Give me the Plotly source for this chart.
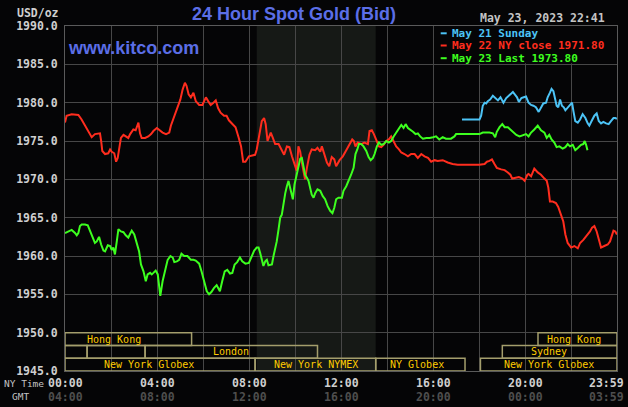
import plotly.graph_objects as go

# ---------------- data ----------------
red_hours = [0.0,0.07,0.29,0.58,0.72,0.87,1.01,1.16,1.30,1.45,1.52,1.57,1.62,1.74,1.88,1.96,2.03,2.14,2.22,2.29,2.35,2.43,2.54,2.64,2.75,2.83,2.97,3.07,3.19,3.26,3.33,3.48,3.62,3.74,3.84,3.99,4.10,4.24,4.39,4.53,4.60,4.75,4.89,5.01,5.11,5.21,5.28,5.37,5.47,5.58,5.68,5.83,5.97,6.12,6.22,6.33,6.45,6.55,6.65,6.76,6.91,7.02,7.12,7.27,7.41,7.55,7.65,7.74,7.84,7.99,8.12,8.26,8.33,8.45,8.55,8.65,8.72,8.80,8.87,8.94,9.03,9.13,9.28,9.42,9.52,9.64,9.75,9.86,10.0,10.07,10.14,10.22,10.29,10.36,10.43,10.51,10.62,10.72,10.87,10.97,11.09,11.16,11.26,11.38,11.48,11.59,11.70,11.78,11.93,12.07,12.22,12.36,12.48,12.55,12.62,12.72,12.87,13.01,13.16,13.23,13.33,13.42,13.52,13.64,13.74,13.84,13.96,14.07,14.17,14.28,14.39,14.51,14.61,14.75,14.90,15.04,15.19,15.33,15.48,15.62,15.77,15.91,16.06,16.19,16.41,16.63,16.84,17.06,17.43,17.79,18.0,18.23,18.33,18.44,18.55,18.66,18.76,18.95,19.10,19.24,19.35,19.43,19.58,19.72,19.87,19.97,20.09,20.14,20.25,20.39,20.54,20.68,20.83,20.93,21.0,21.07,21.19,21.33,21.43,21.55,21.65,21.74,21.84,21.99,22.13,22.28,22.38,22.52,22.67,22.81,22.90,23.0,23.10,23.22,23.29,23.43,23.58,23.68,23.77,23.83,23.91,23.98]
red_values = [1977.4,1978.3,1978.5,1978.4,1977.8,1977.0,1976.2,1975.5,1975.9,1976.0,1976.0,1975.0,1973.7,1973.3,1973.4,1973.9,1973.6,1973.4,1972.3,1972.8,1973.9,1975.4,1975.8,1975.6,1975.4,1975.9,1976.5,1976.4,1977.4,1976.0,1975.4,1975.4,1975.6,1975.9,1976.3,1976.7,1976.4,1976.1,1975.9,1976.1,1977.0,1978.3,1979.4,1980.4,1981.7,1982.6,1982.2,1981.1,1980.7,1981.3,1980.2,1979.7,1979.7,1980.7,1980.2,1979.7,1980.0,1980.3,1979.3,1978.7,1978.3,1978.3,1977.7,1977.3,1976.8,1975.4,1974.3,1972.3,1972.3,1973.0,1973.1,1973.2,1973.9,1975.9,1977.6,1978.0,1977.2,1975.0,1975.6,1976.1,1975.4,1974.6,1974.6,1973.7,1973.2,1974.3,1974.2,1973.0,1971.7,1971.1,1974.3,1973.6,1972.2,1971.1,1970.0,1971.5,1973.2,1973.9,1973.8,1974.1,1973.6,1974.3,1973.2,1972.2,1971.7,1972.9,1972.6,1971.7,1972.5,1973.0,1973.8,1974.6,1975.2,1975.0,1974.3,1974.8,1974.6,1974.8,1974.6,1976.3,1976.4,1975.9,1975.2,1974.3,1974.2,1974.5,1975.0,1975.2,1975.6,1975.0,1974.3,1973.9,1973.5,1973.3,1973.0,1973.3,1973.3,1972.8,1973.3,1973.0,1972.8,1972.3,1972.5,1972.4,1972.5,1972.2,1972.0,1971.9,1971.9,1971.9,1971.9,1972.0,1972.3,1972.4,1972.6,1972.0,1971.5,1971.3,1971.2,1970.9,1970.6,1970.1,1970.2,1970.3,1970.1,1969.8,1970.6,1970.7,1970.4,1971.4,1970.9,1970.6,1970.1,1969.8,1968.9,1967.1,1967.1,1966.9,1966.4,1965.2,1964.5,1962.8,1961.7,1961.1,1961.3,1961.0,1961.7,1962.1,1962.6,1963.2,1963.7,1963.9,1963.2,1961.9,1961.1,1961.3,1961.5,1961.9,1962.8,1963.3,1963.2,1962.8]

green_hours = [0.0,0.145,0.29,0.435,0.51,0.58,0.65,0.725,0.87,0.99,1.09,1.19,1.30,1.38,1.48,1.57,1.67,1.74,1.86,1.96,2.03,2.10,2.17,2.25,2.32,2.43,2.54,2.64,2.75,2.83,2.90,3.01,3.12,3.22,3.30,3.41,3.51,3.59,3.70,3.77,3.84,3.94,4.03,4.07,4.14,4.24,4.35,4.46,4.58,4.68,4.75,4.86,4.96,5.06,5.18,5.32,5.47,5.58,5.68,5.83,5.93,6.04,6.16,6.26,6.36,6.47,6.59,6.66,6.73,6.83,6.94,7.05,7.17,7.27,7.37,7.48,7.60,7.70,7.84,7.99,8.12,8.22,8.33,8.41,8.48,8.55,8.62,8.70,8.77,8.84,8.99,9.06,9.13,9.20,9.28,9.35,9.42,9.49,9.57,9.64,9.71,9.78,9.86,9.90,9.97,10.07,10.14,10.22,10.29,10.36,10.43,10.51,10.58,10.65,10.72,10.80,10.87,10.97,11.09,11.20,11.30,11.41,11.52,11.62,11.70,11.78,11.88,12.03,12.10,12.22,12.33,12.43,12.54,12.62,12.70,12.77,12.87,12.97,13.09,13.19,13.28,13.38,13.45,13.55,13.64,13.74,13.84,13.96,14.07,14.17,14.28,14.39,14.51,14.61,14.71,14.80,14.90,15.0,15.12,15.23,15.33,15.43,15.55,15.70,15.84,15.99,16.12,16.26,16.41,16.55,16.77,16.92,16.99,17.43,17.86,18.01,18.15,18.30,18.44,18.59,18.69,18.76,18.88,19.0,19.10,19.24,19.35,19.46,19.61,19.75,19.90,20.03,20.14,20.25,20.39,20.54,20.68,20.83,20.93,21.04,21.14,21.26,21.36,21.48,21.62,21.74,21.84,21.94,22.06,22.17,22.28,22.42,22.52,22.58,22.64,22.70]
green_values = [1963.0,1963.2,1963.4,1963.0,1962.7,1963.0,1963.9,1964.1,1964.1,1964.0,1963.2,1962.4,1961.7,1961.9,1962.5,1961.5,1960.7,1960.6,1961.4,1961.3,1960.8,1961.1,1960.2,1961.9,1963.5,1963.2,1963.1,1962.7,1962.4,1962.9,1963.3,1962.8,1961.7,1960.6,1958.9,1958.0,1956.7,1957.6,1957.8,1957.6,1957.8,1958.1,1957.6,1956.7,1954.8,1956.7,1958.0,1959.5,1960.0,1959.8,1959.2,1959.3,1959.5,1960.3,1960.0,1960.0,1959.5,1959.5,1959.4,1959.0,1958.0,1956.7,1955.4,1955.0,1955.3,1955.8,1956.2,1955.8,1955.4,1956.7,1958.0,1958.2,1957.7,1957.8,1958.9,1959.2,1959.8,1959.3,1959.0,1959.1,1960.1,1960.7,1961.1,1961.1,1960.4,1959.5,1958.7,1959.3,1959.5,1958.8,1958.9,1960.0,1960.8,1961.9,1963.5,1965.0,1965.4,1966.9,1968.2,1969.1,1969.8,1968.9,1968.0,1967.4,1969.3,1970.6,1971.9,1972.7,1972.8,1971.9,1970.6,1970.2,1969.8,1968.9,1968.0,1967.6,1968.2,1968.7,1968.5,1967.8,1967.4,1966.5,1965.9,1965.6,1966.3,1967.4,1967.6,1967.6,1968.5,1969.1,1969.8,1970.6,1971.5,1973.3,1973.9,1974.6,1974.6,1974.3,1973.7,1972.9,1972.5,1972.8,1973.3,1974.3,1974.8,1974.5,1974.6,1975.0,1974.8,1975.0,1975.6,1976.1,1976.7,1977.1,1976.7,1977.2,1976.7,1976.5,1976.2,1975.9,1976.0,1975.6,1975.3,1975.4,1975.4,1975.5,1975.6,1975.2,1975.5,1975.3,1975.3,1975.6,1975.9,1975.9,1975.9,1975.9,1976.1,1976.1,1976.1,1976.0,1975.5,1976.2,1976.8,1977.2,1976.8,1976.8,1976.5,1976.1,1975.8,1975.6,1975.8,1975.9,1975.6,1976.1,1976.5,1977.0,1976.4,1976.1,1975.4,1975.8,1975.2,1974.8,1974.2,1974.3,1974.0,1974.2,1974.6,1974.3,1974.5,1973.8,1974.1,1974.5,1974.6,1975.0,1974.5,1973.8]

blue_hours = [17.25,18.01,18.08,18.15,18.23,18.30,18.37,18.47,18.59,18.71,18.81,18.92,19.05,19.17,19.29,19.39,19.46,19.53,19.64,19.72,19.83,19.93,20.03,20.14,20.25,20.35,20.46,20.58,20.68,20.78,20.90,20.97,21.07,21.14,21.22,21.29,21.36,21.43,21.51,21.59,21.67,21.74,21.84,21.94,22.03,22.09,22.17,22.28,22.38,22.49,22.61,22.71,22.78,22.88,23.0,23.10,23.19,23.29,23.39,23.51,23.62,23.72,23.83,23.91,23.98]
blue_values = [1977.8,1977.8,1978.3,1979.6,1980.0,1979.9,1980.2,1980.4,1980.9,1980.6,1980.3,1980.7,1980.0,1980.6,1981.0,1981.2,1981.4,1981.1,1980.7,1980.1,1980.6,1980.7,1980.8,1980.0,1979.7,1979.6,1979.4,1978.8,1979.4,1979.9,1980.0,1980.7,1981.3,1981.8,1981.5,1980.4,1979.6,1979.4,1980.4,1979.6,1979.4,1979.0,1979.4,1979.7,1980.0,1978.9,1977.6,1977.4,1977.8,1978.5,1978.0,1977.3,1977.0,1977.6,1978.3,1978.6,1977.6,1977.3,1977.5,1977.3,1977.2,1977.6,1978.0,1978.0,1977.9]

legend_labels = ["May 21 Sunday", "May 22 NY close 1971.80", "May 23 Last 1973.80"]

y_ticks = [1945, 1950, 1955, 1960, 1965, 1970, 1975, 1980, 1985, 1990]
label_hours = [0, 4, 8, 12, 16, 20, 23.983]
ny_labels = ["00:00", "04:00", "08:00", "12:00", "16:00", "20:00", "23:59"]
gmt_labels = ["04:00", "08:00", "12:00", "16:00", "20:00", "00:00", "03:59"]

# market sessions: name, start hour, end hour, row (0 top), label hour
session_names = ["Hong Kong", "", "", "London", "New York Globex", "New York NYMEX", "NY Globex", "Hong Kong", "Sydney", "New York Globex"]
session_start = [0.0, 0.0, 0.96, 3.48, 0.0, 8.26, 13.5, 20.55, 19.0, 18.05]
session_end = [5.5, 0.96, 3.48, 10.97, 8.26, 13.5, 17.38, 23.983, 23.983, 23.983]
session_row = [0, 1, 1, 1, 2, 2, 2, 0, 1, 2]
session_label_at = [2.14, 0, 0, 7.2, 3.66, 10.9, 15.3, 22.1, 21.02, 21.03]

comex_start, comex_end = 8.33, 13.5

# ---------------- styling ----------------
BG = "#050506"
GRID = "#474747"
MONO = "DejaVu Sans Mono"
BLUE_T = "#5b6ee6"
C_BLUE = "#4cc3f5"
C_RED = "#ff2d1e"
C_GREEN = "#3dff1f"
BOX = "#a49e6c"
SESS_TXT = "#ffcc00"

L, R, T, B = 65, 11, 26, 36
W, H = 628, 407
PW, PH = W - L - R, H - T - B
XMAX = 23.983


def px(x):
    return (x - L) / PW


def py(y):
    return (H - B - y) / PH


fig = go.Figure()
for hrs, vals, col in [(red_hours, red_values, C_RED),
                       (green_hours, green_values, C_GREEN),
                       (blue_hours, blue_values, C_BLUE)]:
    fig.add_trace(go.Scatter(x=hrs, y=vals, mode="lines",
                             line=dict(color=col, width=2), hoverinfo="skip",
                             showlegend=False))

shapes = []
# COMEX shaded period
shapes.append(dict(type="rect", xref="x", yref="y", x0=comex_start, x1=comex_end,
                   y0=1945, y1=1990, fillcolor="#161916", line=dict(width=0), layer="below"))
# legend background
shapes.append(dict(type="rect", xref="x", yref="y", x0=16.06, x1=XMAX, y0=1985.15, y1=1990,
                   fillcolor=BG, line=dict(width=0), layer="between"))
# sessions
row_h = 5 / 3
annotations = []
for name, s, e, r, la in zip(session_names, session_start, session_end, session_row, session_label_at):
    y1 = 1950 - r * row_h
    y0 = y1 - row_h
    shapes.append(dict(type="rect", xref="x", yref="y", x0=s, x1=e, y0=y0, y1=y1,
                       line=dict(color=BOX, width=1.5), fillcolor="rgba(0,0,0,0)", layer="above"))
    if name:
        annotations.append(dict(xref="x", yref="y", x=la, y=(y0 + y1) / 2, text=name,
                                showarrow=False, xanchor="center", yanchor="middle",
                                font=dict(family=MONO, size=10, color=SESS_TXT)))

# legend dashes and text
for i, (lab, col) in enumerate(zip(legend_labels, [C_BLUE, C_RED, C_GREEN])):
    yc = [33.3, 45.5, 58.2][i]
    shapes.append(dict(type="line", xref="paper", yref="paper", x0=px(440.7), x1=px(446.7),
                       y0=py(yc), y1=py(yc), line=dict(color=col, width=2)))
    annotations.append(dict(xref="paper", yref="paper", x=px(450), y=py(yc), text=lab,
                            showarrow=False, xanchor="left", yanchor="middle",
                            font=dict(family=MONO, size=11, color=col, weight="bold")))

# title and header texts
annotations += [
    dict(xref="paper", yref="paper", x=px(293.5), y=py(14), text="24 Hour Spot Gold (Bid)",
         showarrow=False, xanchor="center", yanchor="middle",
         font=dict(family="Liberation Sans", size=18, color=BLUE_T, weight="bold")),
    dict(xref="paper", yref="paper", x=px(66), y=py(48), text="www.kitco.com",
         showarrow=False, xanchor="left", yanchor="middle",
         font=dict(family="Liberation Sans", size=18, color=BLUE_T, weight="bold")),
    dict(xref="paper", yref="paper", x=px(60.5), y=py(12.5), text="USD/oz",
         showarrow=False, xanchor="right", yanchor="middle",
         font=dict(family=MONO, size=11.5, color="#cfcfcf", weight="bold")),
    dict(xref="paper", yref="paper", x=px(607), y=py(17.5), text="May 23, 2023 22:41",
         showarrow=False, xanchor="right", yanchor="middle",
         font=dict(family=MONO, size=11.5, color="#c4c4c4", weight="bold")),
    dict(xref="paper", yref="paper", x=px(1.5), y=py(383), text="NY Time",
         showarrow=False, xanchor="left", yanchor="middle",
         font=dict(family=MONO, size=9.5, color="#c4c4c4")),
    dict(xref="paper", yref="paper", x=px(9.5), y=py(396), text="GMT",
         showarrow=False, xanchor="left", yanchor="middle",
         font=dict(family=MONO, size=9.5, color="#c4c4c4")),
]
for h, ny, gm in zip(label_hours, ny_labels, gmt_labels):
    xc = L + h / XMAX * PW
    if h > 23:
        xc = 606
    annotations.append(dict(xref="paper", yref="paper", x=px(xc), y=py(383), text=ny,
                            showarrow=False, xanchor="center", yanchor="middle",
                            font=dict(family=MONO, size=11.5, color="#cfcfcf", weight="bold")))
    annotations.append(dict(xref="paper", yref="paper", x=px(xc), y=py(397), text=gm,
                            showarrow=False, xanchor="center", yanchor="middle",
                            font=dict(family=MONO, size=11.5, color="#4e4e4e", weight="bold")))

fig.update_layout(
    width=W, height=H,
    margin=dict(l=L, r=R, t=T, b=B, pad=0),
    paper_bgcolor=BG, plot_bgcolor=BG,
    showlegend=False,
    shapes=shapes, annotations=annotations,
    xaxis=dict(range=[0, XMAX], tickvals=list(range(0, 24, 2)), showticklabels=False,
               showgrid=True, gridcolor=GRID, gridwidth=1, zeroline=False,
               showline=True, mirror=True, linecolor="#5a5a5a", linewidth=1, ticks=""),
    yaxis=dict(range=[1945, 1990], tickvals=y_ticks,
               ticktext=[f"{v:.1f}" for v in y_ticks],
               tickfont=dict(family=MONO, size=11.5, color="#cfcfcf", weight="bold"),
               showgrid=True, gridcolor=GRID, gridwidth=1, zeroline=False,
               showline=True, mirror=True, linecolor="#5a5a5a", linewidth=1,
               ticks="", ticklabelstandoff=4),
)

fig.write_html("out.html")
